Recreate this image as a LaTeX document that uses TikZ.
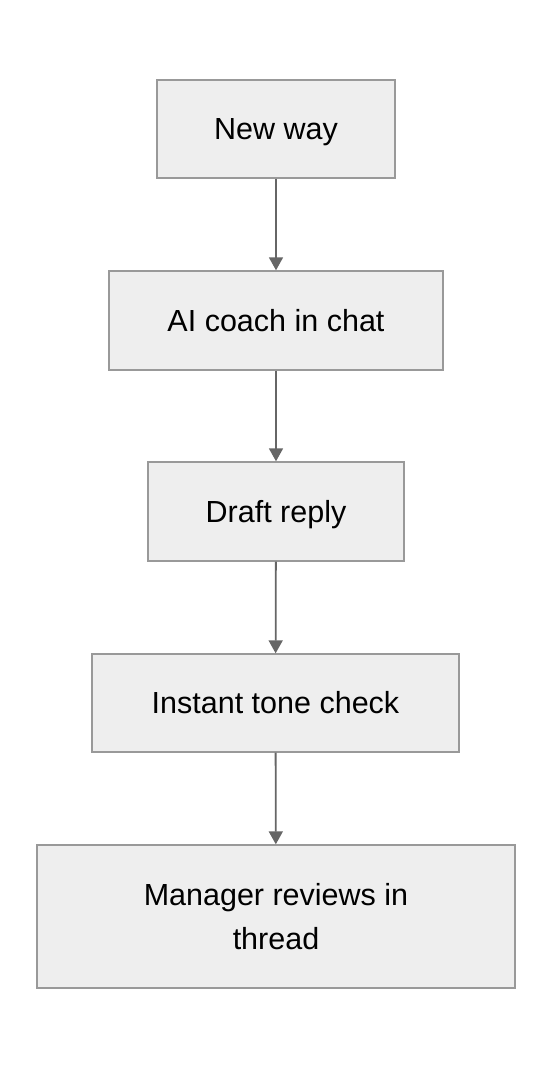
\documentclass[tikz,border=0pt]{standalone}
\usepackage{fontspec}
\setmainfont{Liberation Sans}
\usetikzlibrary{arrows.meta}
\begin{document}
\begin{tikzpicture}[x=1pt,y=1pt,
  box/.style={draw=black!40,fill=black!6.5,line width=1.4pt,inner sep=0pt,
    font=\fontsize{30.5}{44}\selectfont,align=center,text=black},
  onebox/.style={box,text height=22pt,text depth=0pt},
  conn/.style={draw=black!60,line width=1.8pt,-{Triangle[length=13pt,width=14pt]}}]
\useasboundingbox (0,0) rectangle (552,1068);
\node[onebox,minimum width=238pt,minimum height=98pt] (a) at (276,939) {New way};
\node[onebox,minimum width=334pt,minimum height=99pt] (b) at (276,747.5) {AI coach in chat};
\node[onebox,minimum width=256pt,minimum height=99pt] (c) at (276,556.5) {Draft reply};
\node[onebox,minimum width=367pt,minimum height=98pt] (d) at (275.5,365) {Instant tone check};
\node[box,minimum width=478pt,minimum height=143pt] (e) at (276,151.5) {Manager reviews in\\thread};
\draw[conn] (a) -- (b);
\draw[conn] (b) -- (c);
\draw[conn] (c) -- (d);
\draw[conn] (d) -- (e);
\end{tikzpicture}
\end{document}
